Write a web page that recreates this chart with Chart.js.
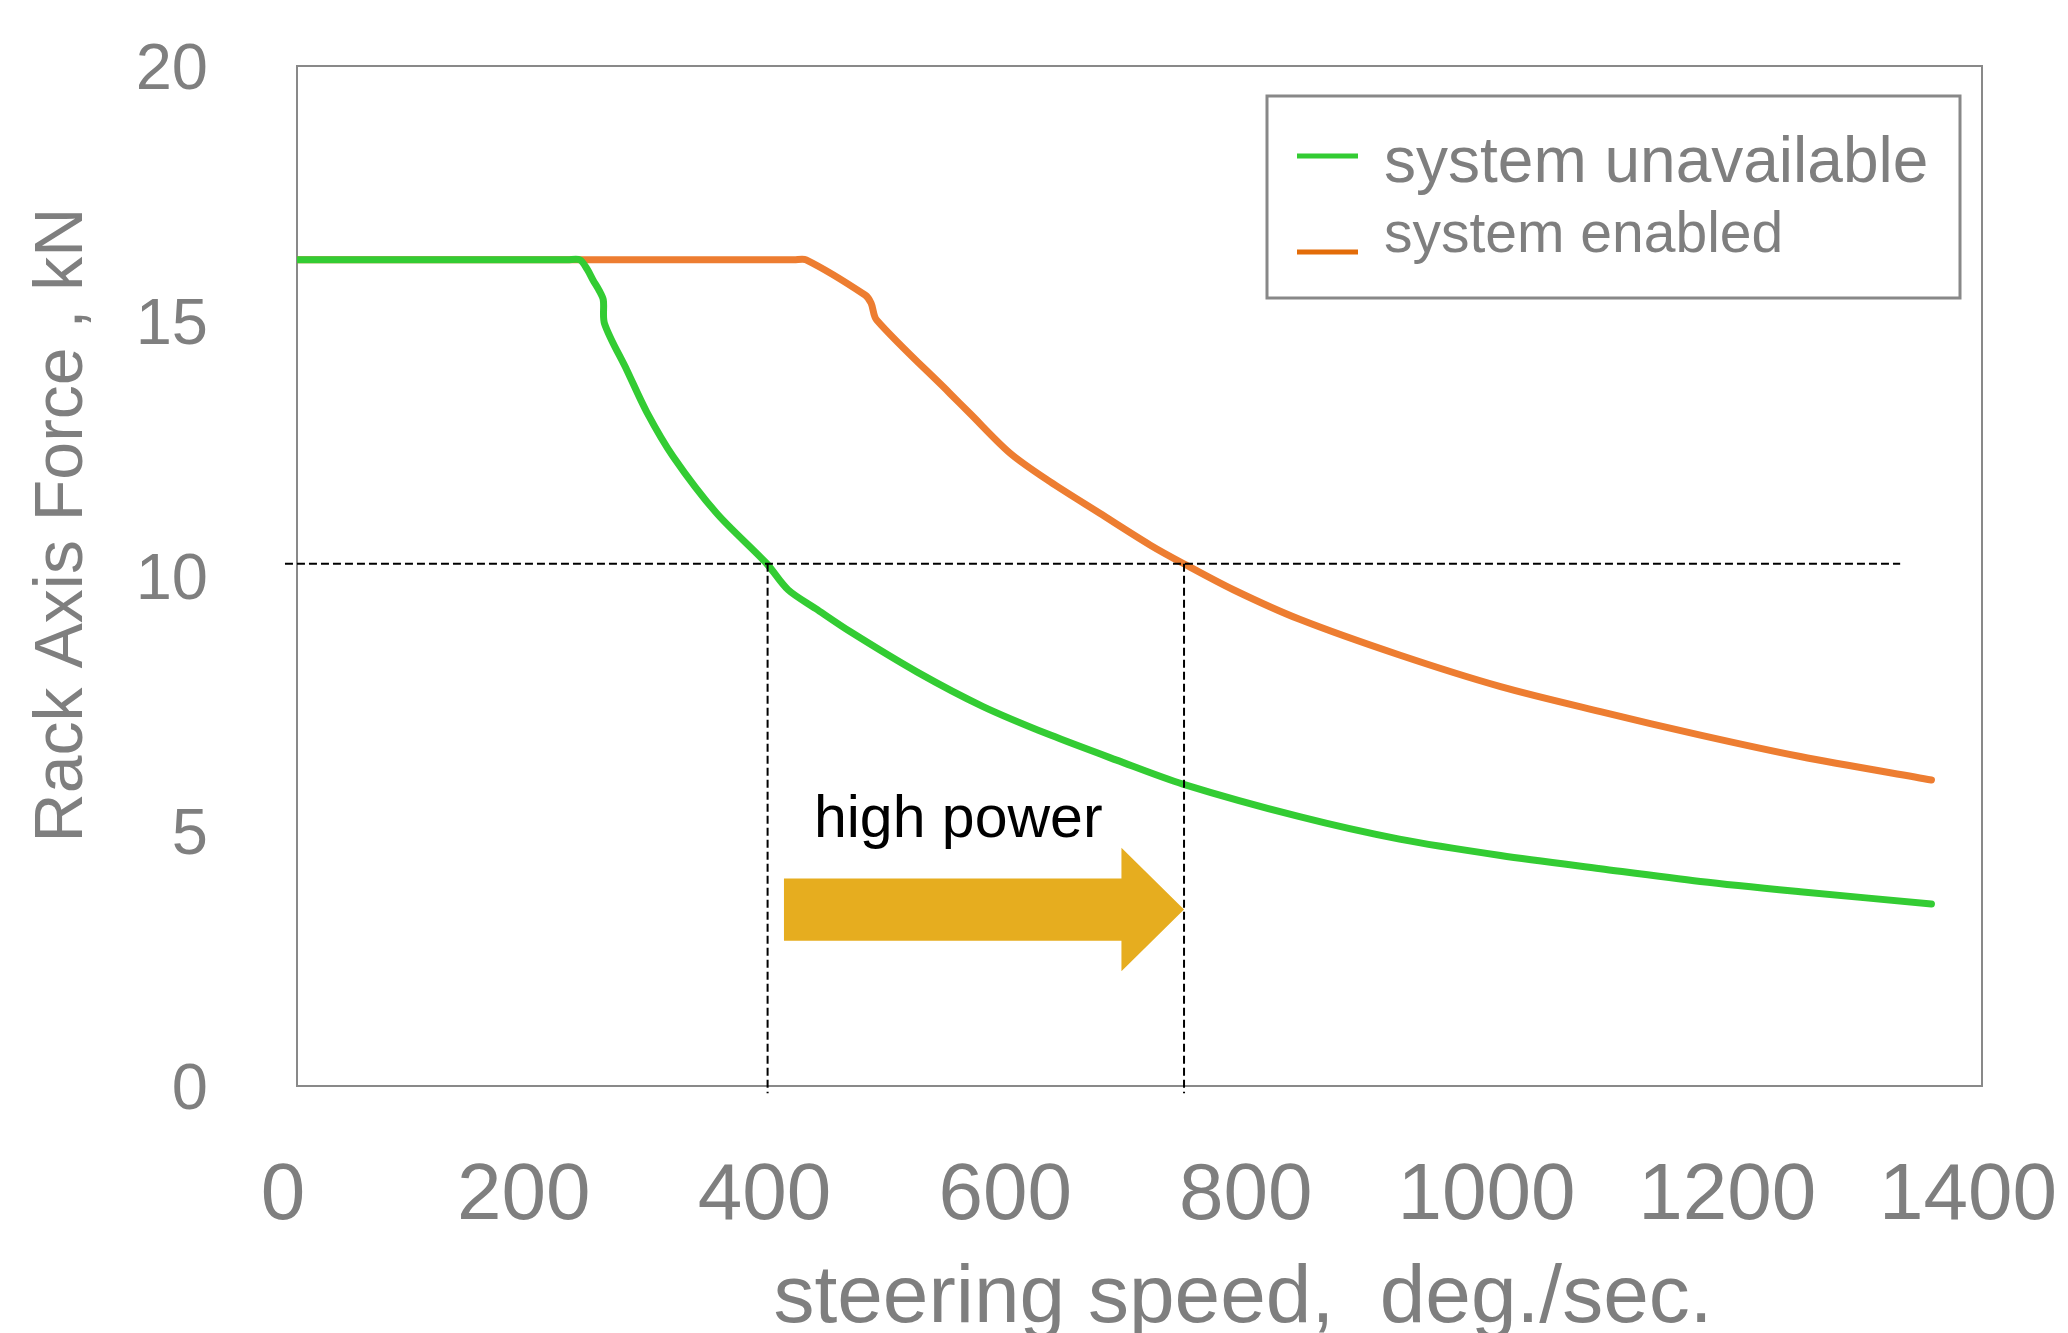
<!DOCTYPE html>
<html lang="en">
<head>
<meta charset="UTF-8">
<title>Rack Axis Force vs Steering Speed</title>
<script src="https://cdn.jsdelivr.net/npm/chart.js"></script>
<style>
  html, body { margin: 0; padding: 0; background: #fff; }
  #wrap { width: 2068px; height: 1333px; position: relative; }
</style>
</head>
<body>
<div id="wrap"><canvas id="force-chart"></canvas></div>
<script>
// steering speed (deg./sec.) vs rack axis force (kN)
const speedUnavailable = [0, 225, 235, 241, 246, 251, 254.5, 255.5, 274, 290.5, 312.6, 348.7, 390, 408, 431, 459.5, 515, 570, 626, 681, 736, 833, 916, 1000, 1083, 1166, 1249, 1358];
const forceUnavailable = [16.2, 16.2, 16.2, 16.02, 15.8, 15.6, 15.41, 14.95, 14.04, 13.22, 12.34, 11.23, 10.25, 9.73, 9.36, 8.91, 8.12, 7.44, 6.88, 6.39, 5.92, 5.28, 4.84, 4.52, 4.26, 4.01, 3.81, 3.57];
const speedEnabled = [0, 413, 423, 472, 477, 481.6, 542.5, 559, 592.4, 625.6, 667, 708.7, 736, 778, 833, 916, 1000, 1083, 1166, 1249, 1358];
const forceEnabled = [16.2, 16.2, 16.2, 15.51, 15.35, 15.02, 13.58, 13.19, 12.41, 11.85, 11.23, 10.61, 10.25, 9.73, 9.15, 8.45, 7.83, 7.34, 6.88, 6.46, 6.0];

const seriesLabels = ['system unavailable', 'system enabled'];

// guide lines and the "high power" arrow (data units)
const guideForce = 10.24;
const guideSpeeds = [391, 737];
const guideSpan = [-10, 1332];   // x extent of the horizontal guide
const guideFloor = -0.14;        // vertical guides stop just under the axis
const arrowSpeeds = [404.6, 685, 737];  // tail, head base, tip
const arrowBody = [2.85, 4.07];
const arrowHead = [2.25, 4.67];
const noteText = 'high power';
const notePos = [429.5, 4.88];

const GREY = '#7f7f7f';
const FONT = "'Liberation Sans', Arial, sans-serif";

function toPoints(xs, ys) {
    return xs.map((x, i) => ({ x: x, y: ys[i] }));
}

const overlay = {
    id: 'overlay',
    beforeDatasetsDraw(chart) {
        const { ctx, chartArea: a } = chart;
        ctx.save();
        ctx.strokeStyle = '#898989';
        ctx.lineWidth = 2;
        ctx.strokeRect(a.left, a.top, a.right - a.left, a.bottom - a.top);
        ctx.restore();
    },
    afterDatasetsDraw(chart) {
        const { ctx, chartArea: a, scales: { x, y } } = chart;
        ctx.save();

        // arrow
        const xt = x.getPixelForValue(arrowSpeeds[0]);
        const xb = x.getPixelForValue(arrowSpeeds[1]);
        const xp = x.getPixelForValue(arrowSpeeds[2]);
        ctx.fillStyle = '#e6ad1f';
        ctx.beginPath();
        ctx.moveTo(xt, y.getPixelForValue(arrowBody[1]));
        ctx.lineTo(xb, y.getPixelForValue(arrowBody[1]));
        ctx.lineTo(xb, y.getPixelForValue(arrowHead[1]));
        ctx.lineTo(xp, y.getPixelForValue((arrowBody[0] + arrowBody[1]) / 2));
        ctx.lineTo(xb, y.getPixelForValue(arrowHead[0]));
        ctx.lineTo(xb, y.getPixelForValue(arrowBody[0]));
        ctx.lineTo(xt, y.getPixelForValue(arrowBody[0]));
        ctx.closePath();
        ctx.fill();

        // dashed guides
        ctx.strokeStyle = '#000';
        ctx.lineWidth = 2;
        ctx.setLineDash([8, 4]);
        const gy = y.getPixelForValue(guideForce);
        ctx.beginPath();
        ctx.moveTo(x.getPixelForValue(guideSpan[0]), gy);
        ctx.lineTo(x.getPixelForValue(guideSpan[1]), gy);
        guideSpeeds.forEach(s => {
            const gx = x.getPixelForValue(s);
            ctx.moveTo(gx, gy);
            ctx.lineTo(gx, y.getPixelForValue(guideFloor));
        });
        ctx.stroke();
        ctx.setLineDash([]);

        // note
        ctx.fillStyle = '#000';
        ctx.font = '59px ' + FONT;
        ctx.textAlign = 'left';
        ctx.textBaseline = 'alphabetic';
        ctx.fillText(noteText, x.getPixelForValue(notePos[0]), y.getPixelForValue(notePos[1]));

        // legend box
        const bx = a.right - 715, by = a.top + 30;
        ctx.strokeStyle = '#888';
        ctx.lineWidth = 3;
        ctx.strokeRect(bx, by, 693, 202);
        const ds = chart.data.datasets;
        ctx.lineWidth = 5;
        ctx.strokeStyle = ds[0].legendColor;
        ctx.beginPath();
        ctx.moveTo(bx + 30, by + 60);
        ctx.lineTo(bx + 91, by + 60);
        ctx.stroke();
        ctx.strokeStyle = ds[1].legendColor;
        ctx.beginPath();
        ctx.moveTo(bx + 30, by + 156);
        ctx.lineTo(bx + 91, by + 156);
        ctx.stroke();
        ctx.fillStyle = GREY;
        ctx.font = '64px ' + FONT;
        ctx.fillText(ds[0].label, bx + 117, by + 86);
        ctx.font = '57px ' + FONT;
        ctx.fillText(ds[1].label, bx + 117, by + 156);

        // axis titles
        ctx.font = '82px ' + FONT;
        ctx.textAlign = 'center';
        ctx.fillText('steering speed,  deg./sec.', 1243, 1322);
        ctx.save();
        ctx.translate(63, a.top + 459);
        ctx.rotate(-Math.PI / 2);
        ctx.font = '68px ' + FONT;
        ctx.textBaseline = 'middle';
        ctx.fillText('Rack Axis Force , kN', 0, 0);
        ctx.restore();

        ctx.restore();
    }
};

new Chart(document.getElementById('force-chart'), {
    type: 'line',
    data: {
        datasets: [
            {
                label: seriesLabels[0],
                data: toPoints(speedUnavailable, forceUnavailable),
                borderColor: '#33cc33',
                legendColor: '#33cc33',
                borderWidth: 7,
                borderCapStyle: 'round',
                borderJoinStyle: 'round',
                pointRadius: 0,
                tension: 0.3
            },
            {
                label: seriesLabels[1],
                data: toPoints(speedEnabled, forceEnabled),
                borderColor: '#ed7d31',
                legendColor: '#e36c09',
                borderWidth: 7,
                borderCapStyle: 'round',
                borderJoinStyle: 'round',
                pointRadius: 0,
                tension: 0.3
            }
        ]
    },
    options: {
        responsive: true,
        maintainAspectRatio: false,
        animation: false,
        layout: { padding: { left: 0, top: 66, right: 86, bottom: 0 } },
        plugins: {
            legend: { display: false },
            tooltip: { enabled: false }
        },
        scales: {
            x: {
                type: 'linear',
                min: 0,
                max: 1400,
                grid: { display: false, drawTicks: false },
                border: { display: false },
                ticks: {
                    stepSize: 200,
                    color: GREY,
                    padding: 63,
                    labelOffset: -14,
                    maxRotation: 0,
                    callback: v => String(v),
                    font: { family: FONT, size: 80, lineHeight: 1.2 }
                },
                afterFit(scale) {
                    scale.height = 247;
                    scale.paddingLeft = 0;
                    scale.paddingRight = 0;
                }
            },
            y: {
                min: 0,
                max: 20,
                grid: { display: false, drawTicks: false },
                border: { display: false },
                ticks: {
                    stepSize: 5,
                    color: GREY,
                    padding: 89,
                    labelOffset: 5,
                    callback: v => String(v),
                    font: { family: FONT, size: 65, lineHeight: 1.2 }
                },
                afterFit(scale) {
                    scale.width = 297;
                    scale.paddingTop = 0;
                    scale.paddingBottom = 0;
                }
            }
        }
    },
    plugins: [overlay]
});
</script>
</body>
</html>
